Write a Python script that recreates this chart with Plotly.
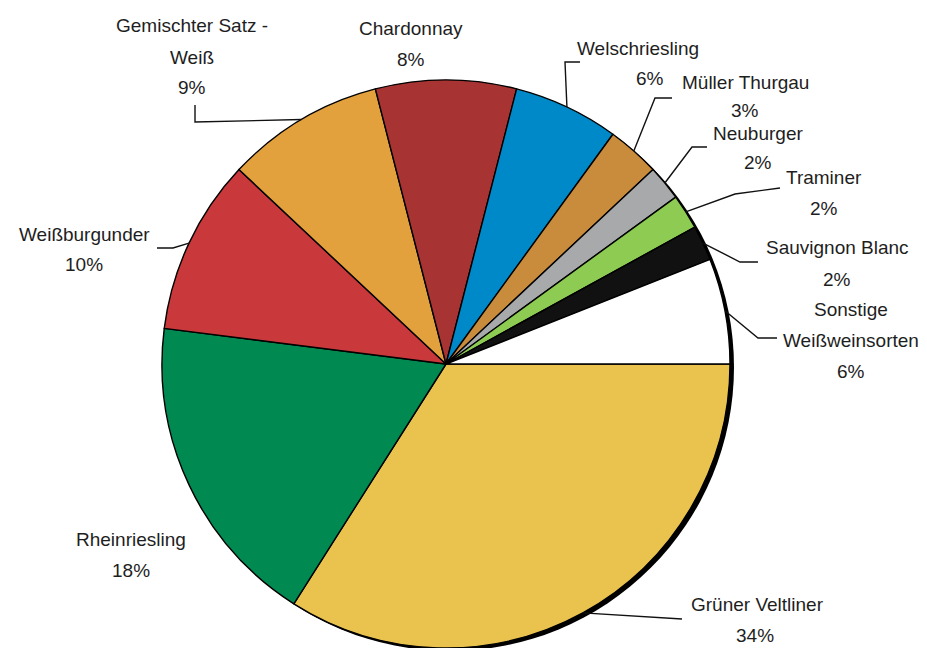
import math
import plotly.graph_objects as go

# Rebsorten-Anteile (Weißwein)
varieties = [
    "Grüner Veltliner", "Rheinriesling", "Weißburgunder", "Gemischter Satz - Weiß",
    "Chardonnay", "Welschriesling", "Müller Thurgau", "Neuburger", "Traminer",
    "Sauvignon Blanc", "Sonstige Weißweinsorten",
]
shares = [34, 18, 10, 9, 8, 6, 3, 2, 2, 2, 6]
label_lines = [
    ["Grüner Veltliner"], ["Rheinriesling"], ["Weißburgunder"],
    ["Gemischter Satz -", "Weiß"], ["Chardonnay"], ["Welschriesling"],
    ["Müller Thurgau"], ["Neuburger"], ["Traminer"], ["Sauvignon Blanc"],
    ["Sonstige", "Weißweinsorten"],
]
colors = [
    "#E9C34D", "#008A52", "#C9383A", "#E3A13D", "#A83333", "#0089C8",
    "#C98B3C", "#A7A9AB", "#8DCB52", "#111111", "#FFFFFF",
]

W, H = 927, 648
CX, CY, R = 446, 364, 284  # pie centre and radius in pixels
LINE_GAP = 31

# label block centre (x, y of first line) in pixels
label_pos = [
    (757, 604), (131, 539), (84, 234), (192, 26), (411, 29), (638, 48),
    (745, 82), (758, 133), (824, 177), (837, 248), (851, 309),
]
# percentage line offsets: x override (None = same as block), y gap
pct_x = [755, None, None, None, None, 650, None, None, None, None, None]
pct_gap = [LINE_GAP] * len(shares)
pct_gap[6] = 29
pct_gap[7] = 29
# leader line points on the label side (pixels); None = no leader
leaders = [
    [(682, 619)],
    None,
    [(157, 248), (173, 248)],
    [(195, 105), (195, 122)],
    None,
    [(580, 62), (565, 62)],
    [(672, 98), (655, 98)],
    [(707, 147), (692, 147)],
    [(780, 188), (735, 194)],
    [(758, 262), (740, 262)],
    [(777, 338), (758, 338)],
]


def px(x):
    return x / W


def py(y):
    return 1 - y / H


fig = go.Figure()
fig.add_trace(go.Pie(
    labels=varieties,
    values=shares,
    sort=False,
    direction="clockwise",
    rotation=90,
    marker=dict(colors=colors, line=dict(color="#000000", width=1.4)),
    textinfo="none",
    hoverinfo="label+percent",
    showlegend=False,
    domain=dict(x=[px(CX - R), px(CX + R)], y=[py(CY + R), py(CY - R)]),
))

shapes = []
# drop shadow along the lower right rim
SX, SY = 4, 3
shapes.append(dict(
    type="circle", xref="paper", yref="paper", layer="below",
    x0=px(CX - R + SX), x1=px(CX + R + SX),
    y0=py(CY + R + SY), y1=py(CY - R + SY),
    fillcolor="#000000", line=dict(width=0),
))

# leader lines, ending at the rim at each slice's mid angle
total = sum(shares)
cum = 0
annotations = []
font = dict(family="Liberation Sans, Arial, sans-serif", size=19, color="#1E1E1E")
for i, v in enumerate(shares):
    mid = (cum + v / 2) / total * 360.0
    cum += v
    ang = math.radians(mid)
    ex, ey = CX + R * math.cos(ang), CY + R * math.sin(ang)
    if leaders[i]:
        pts = leaders[i] + [(ex, ey)]
        path = "M " + " L ".join(f"{px(x):.5f},{py(y):.5f}" for x, y in pts)
        shapes.append(dict(type="path", xref="paper", yref="paper", path=path,
                           line=dict(color="#111111", width=1.4)))
    lx, ly = label_pos[i]
    names = label_lines[i]
    for k, t in enumerate(names):
        annotations.append(dict(
            x=px(lx), y=py(ly + k * LINE_GAP), xref="paper", yref="paper",
            text=t, showarrow=False, xanchor="center", yanchor="middle",
            font=font,
        ))
    x = pct_x[i] if pct_x[i] is not None else lx
    y = ly + (len(names) - 1) * LINE_GAP + pct_gap[i]
    annotations.append(dict(
        x=px(x), y=py(y), xref="paper", yref="paper",
        text=f"{v}%", showarrow=False, xanchor="center", yanchor="middle",
        font=font,
    ))

fig.update_layout(
    width=W, height=H,
    margin=dict(l=0, r=0, t=0, b=0),
    paper_bgcolor="#FFFFFF",
    plot_bgcolor="#FFFFFF",
    shapes=shapes,
    annotations=annotations,
)

fig.write_html("out.html")
